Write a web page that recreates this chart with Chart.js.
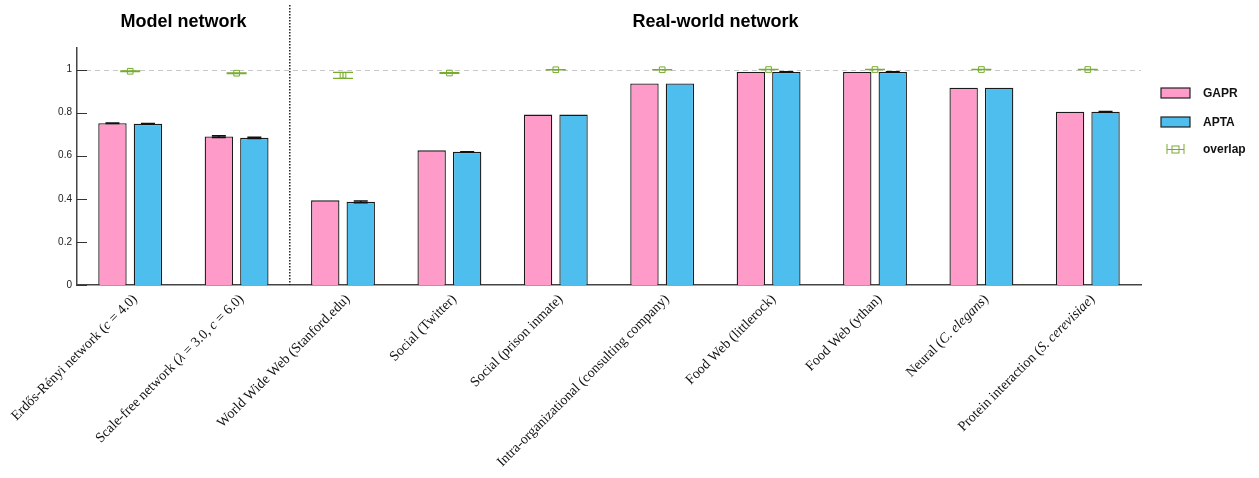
<!DOCTYPE html>
<html>
<head>
<meta charset="utf-8">
<script src="https://cdn.jsdelivr.net/npm/chart.js@4/dist/chart.umd.min.js"></script>
<style>
  html, body { margin: 0; padding: 0; background: #fff; }
  canvas { display: block; }
</style>
</head>
<body>
<canvas id="c" width="1259" height="478"></canvas>
<script>
// Network categories; *...* marks math-italic segments of a label.
const categories = [
  "Erdős-Rényi network (*c* = 4.0)",
  "Scale-free network (*λ* = 3.0, *c* = 6.0)",
  "World Wide Web (Stanford.edu)",
  "Social (Twitter)",
  "Social (prison inmate)",
  "Intra-organizational (consulting company)",
  "Food Web (littlerock)",
  "Food Web (ythan)",
  "Neural (*C. elegans*)",
  "Protein interaction (*S. cerevisiae*)"
];
const groupTitles = ["Model network", "Real-world network"];
const modelCount = 2; // first categories belong to the model group

const gaprValues = [0.751, 0.689, 0.393, 0.625, 0.791, 0.935, 0.989, 0.989, 0.916, 0.804];
const gaprErrors = [0.001, 0.004, 0, 0, 0, 0, 0, 0, 0, 0];
const aptaValues = [0.748, 0.683, 0.386, 0.618, 0.791, 0.935, 0.989, 0.989, 0.916, 0.804];
const aptaErrors = [0.001, 0.003, 0.004, 0.001, 0, 0, 0.001, 0.001, 0, 0.001];
const overlapValues = [0.992, 0.983, 0.973, 0.984, 0.999, 0.999, 1.0, 1.0, 1.0, 1.0];
const overlapErrors = [0.002, 0.002, 0.014, 0.002, 0.001, 0.001, 0.0005, 0.0005, 0.0005, 0.0005];
const yTicks = [0, 0.2, 0.4, 0.6, 0.8, 1];

const PINK = '#FE9BC8';
const BLUE = '#4DBEEE';
const GREEN = '#77AC30';

function parseSegments(label) {
  return label.split('*').map((t, i) => ({ text: t, italic: i % 2 === 1 })).filter(s => s.text.length);
}
const plainLabels = categories.map(l => l.replace(/\*/g, ''));

// Vertical error bars with caps, drawn from each dataset's errors array.
const errorBarPlugin = {
  id: 'errorBars',
  afterDatasetsDraw(chart) {
    const ctx = chart.ctx;
    const y = chart.scales.y;
    chart.data.datasets.forEach((ds, di) => {
      if (!ds.errors) return;
      const meta = chart.getDatasetMeta(di);
      ctx.save();
      ctx.strokeStyle = ds.errorColor;
      ctx.lineWidth = ds.errorWidth;
      meta.data.forEach((el, i) => {
        const e = ds.errors[i];
        if (!e) return;
        const v = ds.data[i];
        const yt = y.getPixelForValue(v + e);
        const yb = y.getPixelForValue(v - e);
        const hw = ds.capWidth / 2;
        ctx.beginPath();
        ctx.moveTo(el.x, yt); ctx.lineTo(el.x, yb);
        ctx.moveTo(el.x - hw, yt); ctx.lineTo(el.x + hw, yt);
        ctx.moveTo(el.x - hw, yb); ctx.lineTo(el.x + hw, yb);
        ctx.stroke();
      });
      ctx.restore();
    });
  }
};

// Reference line at 1, inward y ticks, group divider, titles, rotated labels, legend.
const decorPlugin = {
  id: 'decor',
  beforeDatasetsDraw(chart) {
    const { ctx, chartArea, scales: { y } } = chart;
    ctx.save();
    ctx.strokeStyle = '#c8c8c8';
    ctx.lineWidth = 1;
    ctx.setLineDash([5, 4]);
    const y1 = Math.round(y.getPixelForValue(1)) + 0.5;
    ctx.beginPath();
    ctx.moveTo(chartArea.left, y1);
    ctx.lineTo(chartArea.right, y1);
    ctx.stroke();
    ctx.setLineDash([]);
    ctx.strokeStyle = '#333';
    ctx.lineWidth = 1;
    yTicks.forEach(v => {
      const py = Math.round(y.getPixelForValue(v)) + 0.5;
      ctx.beginPath();
      ctx.moveTo(chartArea.left, py);
      ctx.lineTo(chartArea.left + 10, py);
      ctx.stroke();
    });
    ctx.restore();
  },
  afterDraw(chart) {
    const { ctx, chartArea, scales: { x } } = chart;
    const divX = (x.getPixelForValue(modelCount - 1) + x.getPixelForValue(modelCount)) / 2;

    ctx.save();
    // divider
    ctx.strokeStyle = '#222';
    ctx.lineWidth = 1.5;
    ctx.setLineDash([1.5, 1.5]);
    ctx.beginPath();
    ctx.moveTo(divX, 5);
    ctx.lineTo(divX, chartArea.bottom);
    ctx.stroke();
    ctx.setLineDash([]);

    // group titles
    ctx.fillStyle = '#000';
    ctx.font = 'bold 18px "Liberation Sans", Arial, sans-serif';
    ctx.textAlign = 'center';
    ctx.textBaseline = 'alphabetic';
    ctx.fillText(groupTitles[0], (chartArea.left + divX) / 2, 27);
    ctx.fillText(groupTitles[1], (divX + chartArea.right) / 2, 27);

    // rotated category labels with italic math parts
    const roman = '14px "Liberation Serif", "Times New Roman", serif';
    const italic = 'italic 14px "Liberation Serif", "Times New Roman", serif';
    ctx.fillStyle = '#111';
    ctx.textBaseline = 'middle';
    ctx.textAlign = 'left';
    categories.forEach((label, i) => {
      const segs = parseSegments(label);
      let total = 0;
      segs.forEach(s => { ctx.font = s.italic ? italic : roman; s.w = ctx.measureText(s.text).width; total += s.w; });
      const cx = x.getPixelForValue(i);
      ctx.save();
      ctx.translate(cx + 5, chartArea.bottom + 12);
      ctx.rotate(-Math.PI / 4);
      let pos = -total;
      segs.forEach(s => {
        ctx.font = s.italic ? italic : roman;
        ctx.fillText(s.text, pos, 0);
        pos += s.w;
      });
      ctx.restore();
    });

    // legend
    const lx = chartArea.right + 20;
    const tx = chartArea.right + 62;
    ctx.font = 'bold 12px "Liberation Sans", Arial, sans-serif';
    ctx.textBaseline = 'middle';
    ctx.textAlign = 'left';
    const bars = chart.data.datasets.slice(0, 2);
    [93, 122].forEach((cy, k) => {
      ctx.fillStyle = bars[k].backgroundColor;
      ctx.fillRect(lx, cy - 5, 29, 10);
      ctx.strokeStyle = '#222';
      ctx.lineWidth = 1.2;
      ctx.strokeRect(lx, cy - 5, 29, 10);
      ctx.fillStyle = '#111';
      ctx.fillText(bars[k].label, tx, cy + 0.5);
    });
    const oy = 149;
    const ox = chartArea.right + 26;
    ctx.strokeStyle = GREEN;
    ctx.lineWidth = 1;
    ctx.beginPath();
    ctx.moveTo(ox, oy - 5); ctx.lineTo(ox, oy + 5);
    ctx.moveTo(ox + 17, oy - 5); ctx.lineTo(ox + 17, oy + 5);
    ctx.moveTo(ox, oy + 0.5); ctx.lineTo(ox + 17, oy + 0.5);
    ctx.stroke();
    ctx.strokeRect(ox + 5, oy - 3, 7, 7);
    ctx.fillStyle = '#111';
    ctx.fillText(chart.data.datasets[2].label, tx, oy + 0.5);
    ctx.restore();
  }
};

new Chart(document.getElementById('c'), {
  type: 'bar',
  data: {
    labels: plainLabels,
    datasets: [
      {
        label: 'GAPR', data: gaprValues, errors: gaprErrors,
        backgroundColor: PINK, borderColor: '#1a1a1a', borderWidth: 1.3,
        errorColor: '#111', errorWidth: 1.5, capWidth: 14,
        categoryPercentage: 0.667, barPercentage: 0.8
      },
      {
        label: 'APTA', data: aptaValues, errors: aptaErrors,
        backgroundColor: BLUE, borderColor: '#1a1a1a', borderWidth: 1.3,
        errorColor: '#111', errorWidth: 1.5, capWidth: 14,
        categoryPercentage: 0.667, barPercentage: 0.8
      },
      {
        type: 'line', label: 'overlap', data: overlapValues, errors: overlapErrors,
        showLine: false, pointStyle: 'rect', pointRadius: 4, pointHoverRadius: 4,
        pointBorderWidth: 1, borderColor: GREEN, backgroundColor: 'rgba(0,0,0,0)',
        errorColor: GREEN, errorWidth: 1.2, capWidth: 20
      }
    ]
  },
  options: {
    responsive: false,
    animation: false,
    events: [],
    layout: { padding: { left: 0, right: 118, top: 48, bottom: 0 } },
    plugins: { legend: { display: false }, tooltip: { enabled: false } },
    scales: {
      x: {
        ticks: { display: false },
        grid: { display: false, drawTicks: false },
        border: { display: true, color: '#444', width: 1.5 },
        afterFit(s) { s.height = 193; }
      },
      y: {
        min: 0, max: 1.1,
        ticks: {
          stepSize: 0.2, padding: 5, color: '#222',
          font: { family: '"Liberation Sans", Arial, sans-serif', size: 10 },
          callback: v => String(+v.toFixed(1))
        },
        afterBuildTicks(s) { s.ticks = yTicks.map(v => ({ value: v })); },
        grid: { display: false, drawTicks: false },
        border: { display: true, color: '#444', width: 1.5 },
        afterFit(s) { s.width = 77; }
      }
    }
  },
  plugins: [errorBarPlugin, decorPlugin]
});
</script>
</body>
</html>
